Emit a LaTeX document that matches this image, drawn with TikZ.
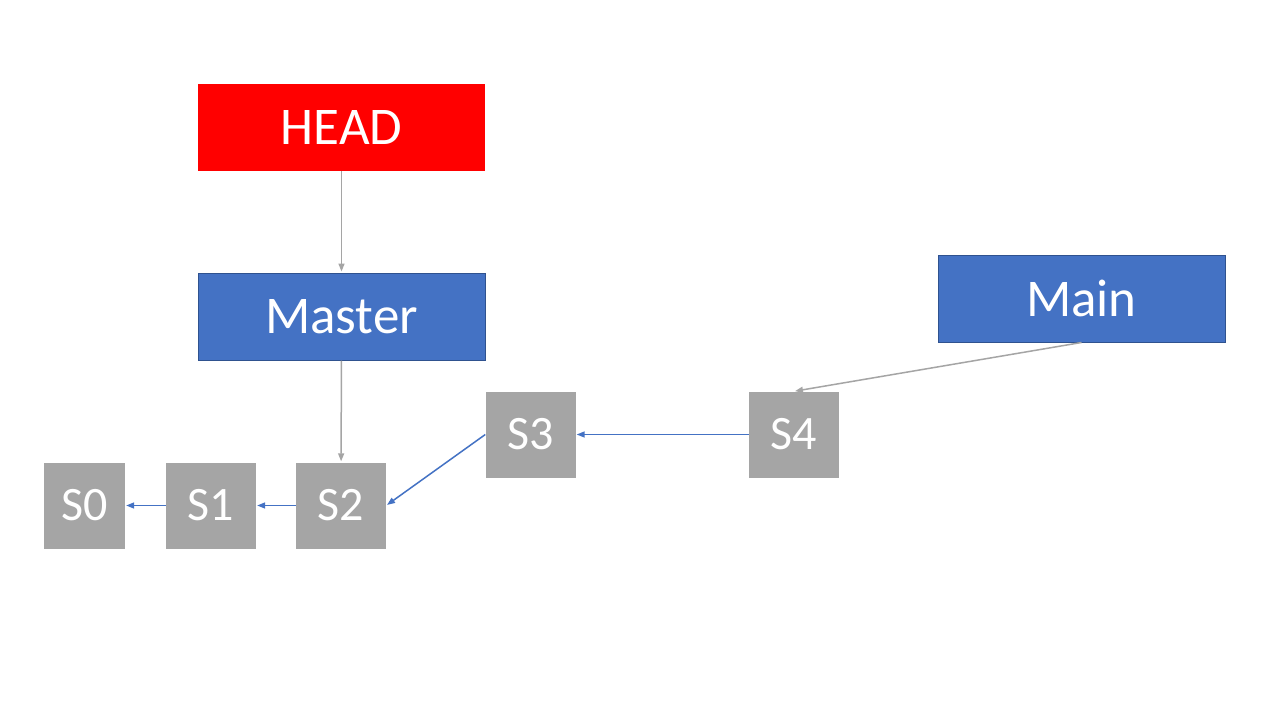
\documentclass[tikz,border=0pt]{standalone}
\usepackage{fontspec}
\setmainfont{Carlito}
\usetikzlibrary{arrows.meta}
\definecolor{headred}{HTML}{FF0000}
\definecolor{branchblue}{HTML}{4472C4}
\definecolor{branchedge}{HTML}{2F528F}
\definecolor{commitgray}{HTML}{A5A5A5}
\begin{document}
\begin{tikzpicture}[
    x=1pt, y=-1pt,
    every node/.style={inner sep=0pt, text=white},
    pointer/.style={minimum width=287pt, minimum height=87pt, font=\fontsize{53}{60}\selectfont},
    commit/.style={fill=commitgray, minimum width=90pt, minimum height=86pt, font=\fontsize{48}{56}\selectfont},
    refarrow/.style={draw=commitgray, line width=1.5pt, -{Triangle[length=8pt,width=6pt]}, shorten >=1pt},
    parentarrow/.style={draw=branchblue, line width=1.5pt, -{Triangle[length=8pt,width=6pt]}, shorten >=1pt}
]
\useasboundingbox[fill=white] (0,0) rectangle (1280,720);
% references
\node[pointer, fill=headred] (head) at (341.5,127.5) {HEAD};
\node[pointer, fill=branchblue, draw=branchedge, line width=1pt] (master) at (341.5,316.5) {Master};
\node[pointer, fill=branchblue, draw=branchedge, line width=1pt] (main) at (1081.5,298.5) {Main};
% commits
\node[commit, minimum width=81pt] (s0) at (84.5,505.5) {S0};
\node[commit] (s1) at (211,505.5) {S1};
\node[commit] (s2) at (341,505.5) {S2};
\node[commit] (s3) at (530.5,434.5) {S3};
\node[commit] (s4) at (794,434.5) {S4};
% pointers
\draw[refarrow] (head) -- (master);
\draw[refarrow] (master) -- (s2);
\draw[refarrow] (main.south) -- (s4.north);
% history
\draw[parentarrow] (s4) -- (s3);
\draw[parentarrow] (s3.west) -- (s2.east);
\draw[parentarrow] (s2) -- (s1);
\draw[parentarrow] (s1) -- (s0);
\end{tikzpicture}
\end{document}
